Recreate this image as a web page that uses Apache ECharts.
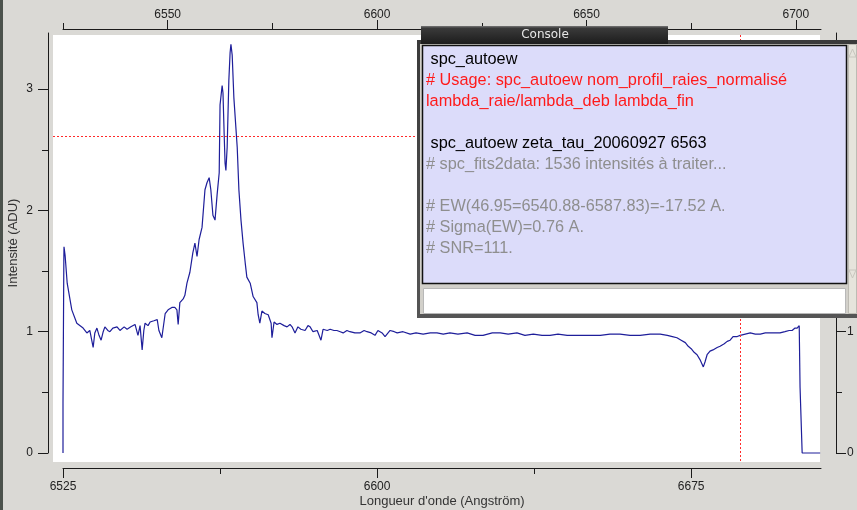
<!DOCTYPE html>
<html><head><meta charset="utf-8">
<script src="https://cdn.jsdelivr.net/npm/echarts@6/dist/echarts.min.js"></script>
<style>html,body{margin:0;padding:0;background:#dad9d5;overflow:hidden}#c{width:857px;height:510px}</style>
</head><body><div id="c"></div><script>
// ---- data ----
const wavelengths = [
6525.0,6525.0,6525.2,6525.24,6525.5,6526.0,6527.1,6528.3,6529.8,6530.7,
6531.4,6532.2,6532.6,6533.1,6533.6,6534.1,6534.6,6535.0,6535.7,6536.2,
6536.9,6537.9,6538.6,6539.6,6540.3,6541.2,6542.2,6542.9,6543.4,6543.9,
6544.3,6544.6,6545.3,6545.8,6546.7,6547.5,6547.9,6548.6,6549.4,6550.1,
6551.0,6551.7,6552.2,6552.5,6552.9,6553.7,6554.1,6554.6,6555.3,6556.0,
6556.5,6557.0,6557.5,6558.2,6558.9,6559.4,6559.9,6560.3,6560.8,6561.3,
6561.8,6562.3,6562.5,6563.0,6563.2,6563.5,6563.7,6563.9,6564.2,6564.6,
6564.9,6565.1,6565.4,6565.8,6566.6,6567.0,6567.5,6568.0,6568.5,6568.9,
6569.7,6570.4,6571.3,6571.6,6572.0,6572.5,6573.2,6574.0,6574.7,6574.9,
6575.4,6576.1,6576.8,6577.8,6578.5,6579.2,6579.7,6580.4,6581.1,6581.8,
6582.8,6583.5,6584.0,6584.7,6585.7,6586.1,6586.6,6587.1,6588.1,6588.8,
6589.7,6590.4,6591.2,6591.9,6592.8,6593.5,6594.7,6595.9,6596.9,6597.6,
6598.6,6599.5,6600.2,6601.2,6601.9,6603.1,6604.1,6604.8,6606.2,6607.9,
6609.3,6611.0,6612.7,6614.3,6615.8,6617.4,6619.3,6621.5,6623.4,6625.3,
6627.5,6629.4,6631.3,6633.4,6635.3,6637.3,6639.4,6641.3,6643.2,6645.4,
6647.3,6649.2,6651.3,6653.3,6655.6,6658.0,6660.4,6662.8,6665.2,6667.6,
6669.3,6670.5,6671.6,6672.6,6673.6,6674.3,6675.0,6675.7,6676.4,6677.1,
6677.9,6678.3,6678.8,6679.5,6680.2,6681.2,6681.9,6682.9,6683.6,6684.3,
6685.0,6686.0,6686.7,6687.9,6689.1,6690.3,6691.5,6692.7,6693.9,6695.0,
6696.2,6697.4,6698.4,6699.1,6699.8,6700.3,6700.8,6701.0,6701.3,6701.5,
6705.8];
const intensities = [
0,0.41,1.59,1.70,1.63,1.40,1.18,1.07,1.03,0.99,
1.01,0.87,0.99,1.03,0.97,0.93,1.00,1.04,1.01,1.00,
1.03,1.04,1.01,1.04,1.02,1.04,1.06,0.97,1.05,0.85,
1.01,1.07,1.05,1.08,1.09,1.10,1.01,0.95,1.15,1.18,
1.20,1.20,1.18,1.06,1.24,1.27,1.30,1.40,1.49,1.65,
1.73,1.62,1.76,1.86,2.17,2.23,2.27,2.17,1.96,1.92,
2.13,2.31,2.87,3.03,2.97,2.61,2.39,2.33,2.52,3.07,
3.30,3.37,3.28,2.93,2.52,2.17,1.92,1.73,1.57,1.45,
1.40,1.29,1.24,1.14,1.07,1.17,1.15,1.14,1.07,0.95,
1.08,1.06,1.07,1.05,1.04,1.06,1.04,0.99,1.04,1.02,
1.01,1.05,1.04,1.00,1.01,1.00,0.93,1.02,1.01,1.02,
1.01,1.01,1.00,0.99,1.01,1.00,0.99,0.99,1.01,1.00,
0.99,0.97,1.01,0.99,0.96,1.01,1.00,0.99,1.00,0.98,
0.99,0.98,0.99,0.99,0.98,0.99,0.98,0.99,0.97,0.97,
0.99,0.99,0.98,0.99,0.97,0.98,0.97,0.97,0.98,0.97,
0.97,0.97,0.97,0.97,0.98,0.98,0.97,0.97,0.98,0.98,
0.97,0.96,0.95,0.93,0.91,0.88,0.86,0.83,0.81,0.77,
0.71,0.75,0.81,0.84,0.85,0.87,0.88,0.90,0.92,0.93,
0.96,0.96,0.97,0.98,0.99,0.98,0.98,0.99,0.99,0.99,
0.99,1.00,1.01,1.01,1.03,1.03,1.05,0.54,0.54,0,
0];
const bottomMajorTicks = [6525, 6600, 6675];
const bottomMinorTicks = [6562.5, 6637.5];
const topMajorTicks = [6550, 6600, 6650, 6700];
const topMinorTicks = [6525, 6575, 6625, 6675];
const yMajorTicks = [0, 1, 2, 3];
const yMinorTicks = [0.5, 1.5, 2.5];
const cursorWavelength = 6686.7;
const cursorIntensity = 2.61;
const consoleLines = [
  {text: ' spc_autoew', color: '#000000', row: 0},
  {text: '# Usage: spc_autoew nom_profil_raies_normalisé', color: '#ff1a1a', row: 1},
  {text: 'lambda_raie/lambda_deb lambda_fin', color: '#ff1a1a', row: 2},
  {text: ' spc_autoew zeta_tau_20060927 6563', color: '#000000', row: 4},
  {text: '# spc_fits2data: 1536 intensités à traiter...', color: '#8e8e8e', row: 5},
  {text: '# EW(46.95=6540.88-6587.83)=-17.52 A.', color: '#8e8e8e', row: 7},
  {text: '# Sigma(EW)=0.76 A.', color: '#8e8e8e', row: 8},
  {text: '# SNR=111.', color: '#8e8e8e', row: 9}
];

// ---- chart ----
const chart = echarts.init(document.getElementById('c'), null, {renderer: 'canvas', width: 857, height: 510});
const points = wavelengths.map((w, i) => [w, intensities[i]]);
const lineSt = {color: '#1a1a1a', width: 1};
const fmt = v => String(v);
const lab = {color: '#222', fontFamily: 'Liberation Sans', fontSize: 12, formatter: fmt};
const X0 = 6525, X1 = 6706, Y0 = 0, Y1 = 3.4625;

function xa(o) {
  return Object.assign({type: 'value', min: X0, max: X1, splitLine: {show: false},
    axisLine: {show: false, onZero: false, lineStyle: lineSt}}, o);
}
function ya(o) {
  return Object.assign({type: 'value', min: Y0, max: Y1, splitLine: {show: false},
    axisLine: {show: false, onZero: false, lineStyle: lineSt}}, o);
}

const option = {
  animation: false,
  backgroundColor: '#dad9d5',
  grid: {left: 63, right: 36, top: 33, bottom: 57, containLabel: false, outerBoundsMode: 'none'},
  xAxis: [
    xa({position: 'bottom', offset: 15,
      axisLine: {show: true, onZero: false, lineStyle: lineSt},
      axisTick: {show: true, length: 10, lineStyle: lineSt, customValues: bottomMajorTicks},
      axisLabel: Object.assign({margin: 13, customValues: bottomMajorTicks}, lab),
      name: "Longueur d'onde (Angström)", nameLocation: 'middle', nameGap: 27, nameMoveOverlap: false,
      nameTextStyle: {color: '#333', fontFamily: 'Liberation Sans', fontSize: 13}}),
    xa({position: 'bottom', offset: 15,
      axisTick: {show: true, length: 6, lineStyle: lineSt, customValues: bottomMinorTicks},
      axisLabel: {show: false}}),
    xa({position: 'top', offset: 4,
      axisLine: {show: true, onZero: false, lineStyle: lineSt},
      axisTick: {show: true, length: 9, lineStyle: lineSt, customValues: topMajorTicks},
      axisLabel: Object.assign({margin: 8, customValues: topMajorTicks}, lab)}),
    xa({position: 'top', offset: 4,
      axisTick: {show: true, length: 6, lineStyle: lineSt, customValues: topMinorTicks},
      axisLabel: {show: false}})
  ],
  yAxis: [
    ya({position: 'left', offset: 15,
      axisLine: {show: true, onZero: false, lineStyle: lineSt},
      axisTick: {show: true, length: 10, lineStyle: lineSt, customValues: yMajorTicks},
      axisLabel: Object.assign({margin: 15, customValues: yMajorTicks}, lab),
      name: 'Intensité (ADU)', nameLocation: 'middle', nameGap: 28, nameMoveOverlap: false,
      nameTextStyle: {color: '#333', fontFamily: 'Liberation Sans', fontSize: 13}}),
    ya({position: 'left', offset: 15,
      axisTick: {show: true, length: 6, lineStyle: lineSt, customValues: yMinorTicks},
      axisLabel: {show: false}}),
    ya({position: 'right', offset: 15,
      axisLine: {show: true, onZero: false, lineStyle: lineSt},
      axisTick: {show: true, length: 10, lineStyle: lineSt, customValues: yMajorTicks},
      axisLabel: Object.assign({margin: 11, customValues: yMajorTicks}, lab)}),
    ya({position: 'right', offset: 15,
      axisTick: {show: true, length: 6, lineStyle: lineSt, customValues: yMinorTicks},
      axisLabel: {show: false}})
  ],
  series: [{
    type: 'line', xAxisIndex: 0, yAxisIndex: 0, data: points,
    showSymbol: false, symbol: 'none', clip: false,
    lineStyle: {color: '#1e1e9a', width: 1.2}
  }]
};
chart.setOption(option);

const cx = chart.convertToPixel({xAxisIndex: 0}, cursorWavelength);
const cy = chart.convertToPixel({yAxisIndex: 0}, cursorIntensity);
const redStyle = () => ({stroke: '#ff2a2a', fill: null, lineWidth: 1, lineDash: [2, 2], opacity: 1});
const g = [];
g.push({type: 'rect', z: -10, silent: true, shape: {x: 0, y: 0, width: 3, height: 510}, style: {fill: '#4b524c'}});
g.push({type: 'rect', z: -10, silent: true, shape: {x: 53, y: 35, width: 767, height: 427}, style: {fill: '#ffffff'}});
g.push({type: 'line', z: 5, silent: true, shape: {x1: 53, y1: Math.round(cy) + 0.5, x2: 820, y2: Math.round(cy) + 0.5}, style: redStyle()});
g.push({type: 'line', z: 5, silent: true, shape: {x1: Math.round(cx) + 0.5, y1: 35, x2: Math.round(cx) + 0.5, y2: 462}, style: redStyle()});
// console window
const Z = 100;
g.push({type: 'rect', z: Z, shape: {x: 417, y: 40, width: 440, height: 278}, style: {fill: new echarts.graphic.LinearGradient(0, 0, 0, 1, [{offset: 0, color: '#3a3a3a'}, {offset: 1, color: '#555555'}])}});
g.push({type: 'rect', z: Z + 1, shape: {x: 420, y: 44, width: 437, height: 270}, style: {fill: '#d2d0ca'}});
g.push({type: 'rect', z: Z + 2, shape: {x: 422.5, y: 45.5, width: 424, height: 238}, style: {fill: '#dcdcfa', stroke: '#111', lineWidth: 1.5}});
g.push({type: 'rect', z: Z + 2, shape: {x: 423.5, y: 288.5, width: 422, height: 25}, style: {fill: '#ffffff', stroke: '#b8b8b8', lineWidth: 1}});
g.push({type: 'rect', z: Z + 2, shape: {x: 848.5, y: 44.5, width: 8, height: 269}, style: {fill: '#e6e4dc', stroke: '#bdbbb3', lineWidth: 1}});
g.push({type: 'polygon', z: Z + 3, shape: {points: [[849, 57], [856, 57], [852.5, 49]]}, style: {fill: 'none', stroke: '#c8c6be', lineWidth: 1}});
g.push({type: 'polygon', z: Z + 3, shape: {points: [[849, 270], [856, 270], [852.5, 278]]}, style: {fill: 'none', stroke: '#c8c6be', lineWidth: 1}});
g.push({type: 'rect', z: Z + 2, shape: {x: 421, y: 26, width: 247, height: 18}, style: {fill: new echarts.graphic.LinearGradient(0, 0, 0, 1, [{offset: 0, color: '#777'}, {offset: 0.12, color: '#3a3a3a'}, {offset: 1, color: '#1c1c1c'}])}});
g.push({type: 'text', z: Z + 3, style: {x: 545, y: 35, text: 'Console', fill: '#e6e6e6', font: '12px "DejaVu Sans"', textAlign: 'center', textVerticalAlign: 'middle'}});
consoleLines.forEach(l => {
  g.push({type: 'text', z: Z + 4, style: {x: 426, y: 59.5 + 21 * l.row, text: l.text, fill: l.color, font: '16.3px "Liberation Sans"', textAlign: 'left', textVerticalAlign: 'middle'}});
});
chart.setOption({graphic: {elements: g}});
</script></body></html>
